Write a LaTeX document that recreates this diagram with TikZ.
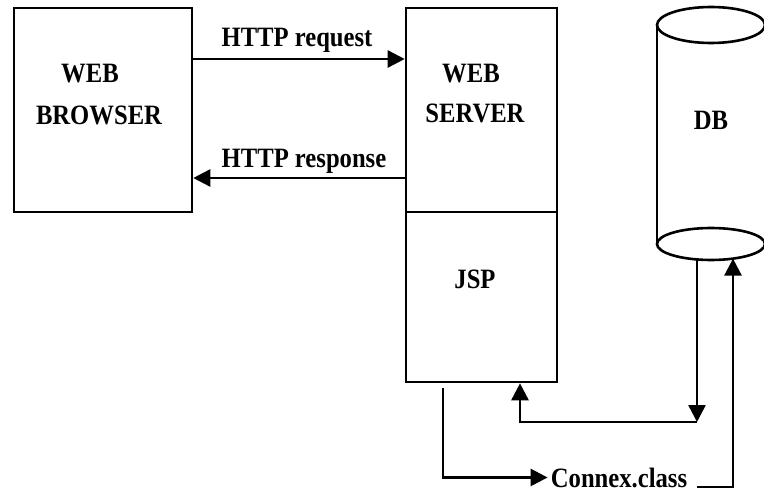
\documentclass[tikz,border=0pt]{standalone}
\usepackage{fontspec}
\setmainfont{Liberation Serif}[FakeStretch=0.88]
\usetikzlibrary{arrows.meta}
\begin{document}
\begin{tikzpicture}[x=1pt,y=-1pt,line width=2.6pt,
  lbl/.style={font=\fontsize{28}{30}\selectfont\bfseries,inner sep=0pt,anchor=base},
  box/.style={draw,inner sep=0pt},
  tip/.style={-{Triangle[length=17pt,width=17pt]}}]
\useasboundingbox (0,0) rectangle (764,492);
% boxes
\node[box,minimum width=178pt,minimum height=204pt] (browser) at (103,110) {};
\node[box,minimum width=151pt,minimum height=204pt] (server) at (481.5,110) {};
\node[box,minimum width=151pt,minimum height=170pt] (jsp) at (481.5,297) {};
% texts
\node[lbl] (bw1) at (90,83) {WEB};
\node[lbl] (bw2) at (99,125) {BROWSER};
\node[lbl] (sv1) at (471,83) {WEB};
\node[lbl] (sv2) at (475,123) {SERVER};
\node[lbl] (jsptxt) at (475,288) {JSP};
\node[lbl] (req) at (297,47) {HTTP request};
\node[lbl] (resp) at (304,168) {HTTP response};
\node[lbl] (db) at (711,130) {DB};
\node[lbl,inner xsep=2pt] (connex) at (619,487) {Connex.class};
% cylinder
\draw (657,25) -- (657,244);
\draw (711,25) ellipse [x radius=54,y radius=18];
\draw (711,244) ellipse [x radius=54,y radius=16];
\coordinate (dbl) at (697,259.5);
\coordinate (dbr) at (733,258.6);
\coordinate (corner) at (697,422);
% HTTP arrows
\draw[tip] ([yshift=51pt]browser.east) -- ([yshift=51pt]server.west);
\draw[tip] ([yshift=-68pt]server.west) -- ([yshift=-68pt]browser.east);
% JSP <-> DB
\draw[tip] (dbl) -- (corner);
\draw[tip] (corner) -| ([xshift=38.5pt]jsp.south);
% JSP -> Connex.class -> DB
\draw[tip] ([xshift=-38.5pt,yshift=-5pt]jsp.south) |- (connex.west);
\draw[tip] ([xshift=7pt]connex.base east) -| (dbr);
\end{tikzpicture}
\end{document}
